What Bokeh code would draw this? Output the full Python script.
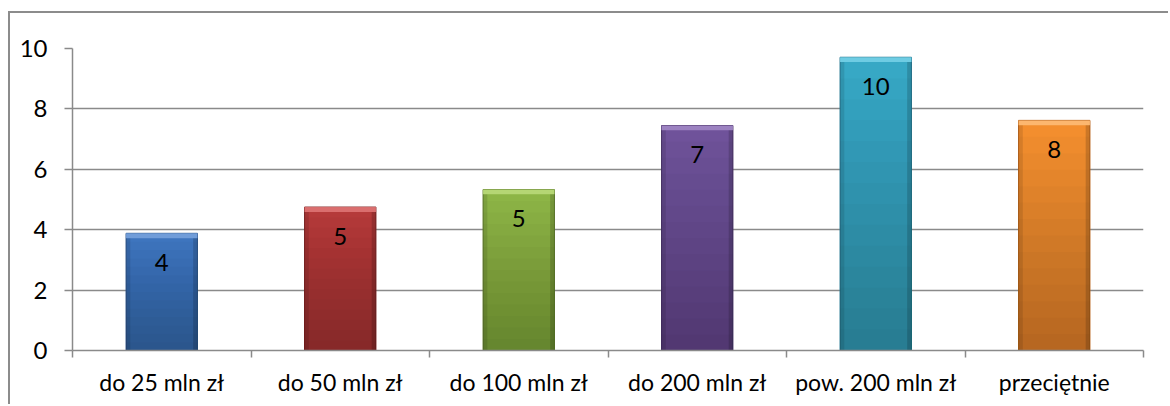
from bokeh.plotting import figure
from bokeh.models import FixedTicker, Range1d, ColumnDataSource
from bokeh.core.properties import value
from bokeh.embed import file_html
from bokeh.resources import INLINE

categories = ["do 25 mln zł", "do 50 mln zł", "do 100 mln zł", "do 200 mln zł", "pow. 200 mln zł", "przeciętnie"]
values = [3.88, 4.75, 5.33, 7.45, 9.71, 7.62]
value_labels = ["4", "5", "5", "7", "10", "8"]
bar_colors = ["#3E75BE", "#B53A3A", "#8DB546", "#6F529A", "#37A8C5", "#F38E2E"]
top_colors = ["#7AA5DE", "#E07878", "#BCDC7C", "#A58BC8", "#78D2E8", "#FDBE7A"]
edge_colors = ["#2A5288", "#7E2424", "#5F7D2C", "#4B3569", "#237590", "#B8621A"]
y_ticks = [0, 2, 4, 6, 8, 10]

FONT = "Lato"
GRID = "#8A8A8A"

x = [i + 0.5 for i in range(len(categories))]
src = ColumnDataSource(dict(x=x, top=values, color=bar_colors, topc=top_colors,
                            edge=edge_colors, lab=value_labels))

p = figure(width=1160, height=393, output_backend="svg", toolbar_location=None,
           x_range=Range1d(0, len(categories)), y_range=Range1d(0, 10),
           min_border_left=62, min_border_right=27, min_border_top=35, min_border_bottom=56)
p.styles = {"border-left": "2px solid #8C8C8C", "border-top": "2px solid #8C8C8C",
            "margin-top": "11px", "margin-left": "8px"}
p.outline_line_color = None
p.background_fill_color = "white"
p.border_fill_color = "white"

# bars
p.vbar(x="x", top="top", bottom=0, width=0.40, fill_color="color", line_color="edge", line_width=1, source=src)
# vertical shading (darker toward bottom)
N = 14
for k in range(1, N):
    frac = k / float(N)
    p.vbar(x=x, top=[v * frac for v in values], bottom=0, width=0.40,
           fill_color="black", fill_alpha=0.02, line_color=None)
# top bevel highlight
p.vbar(x=x, top=values, bottom=[v - 0.16 for v in values], width=0.40,
       fill_color=top_colors, fill_alpha=0.85, line_color=None)
# side shading
p.vbar(x=[xi - 0.188 for xi in x], top=[v - 0.16 for v in values], bottom=0, width=0.024,
       fill_color="black", fill_alpha=0.10, line_color=None)
p.vbar(x=[xi + 0.188 for xi in x], top=[v - 0.16 for v in values], bottom=0, width=0.024,
       fill_color="black", fill_alpha=0.16, line_color=None)

p.text(x="x", y="top", text="lab", source=src, y_offset=29, text_align="center",
       text_baseline="middle", text_font=value(FONT), text_font_size="24px", text_color="black")

# grid
p.xgrid.grid_line_color = None
p.ygrid.ticker = FixedTicker(ticks=y_ticks)
p.ygrid.grid_line_color = GRID
p.ygrid.grid_line_width = 1.5
p.ygrid.level = "underlay"

# y axis
ya = p.yaxis[0]
ya.ticker = FixedTicker(ticks=y_ticks)
ya.axis_line_color = GRID
ya.axis_line_width = 1.5
ya.major_tick_line_color = GRID
ya.major_tick_line_width = 1.5
ya.major_tick_out = 8
ya.major_tick_in = 0
ya.minor_tick_line_color = None
ya.major_label_standoff = 17
ya.major_label_text_font = FONT
ya.major_label_text_font_size = "24px"
ya.major_label_text_color = "black"

# x axis
xa = p.xaxis[0]
xa.ticker = FixedTicker(ticks=x, minor_ticks=list(range(len(categories) + 1)))
xa.major_label_overrides = {xi: c for xi, c in zip(x, categories)}
xa.axis_line_color = GRID
xa.axis_line_width = 1.5
xa.major_tick_line_color = None
xa.major_tick_out = 7
xa.major_tick_in = 0
xa.minor_tick_line_color = GRID
xa.minor_tick_line_width = 1.5
xa.minor_tick_out = 7
xa.minor_tick_in = 0
xa.major_label_standoff = 10
xa.major_label_text_font = FONT
xa.major_label_text_font_size = "23px"
xa.major_label_text_color = "black"

open("out.html", "w").write(file_html(p, INLINE))
